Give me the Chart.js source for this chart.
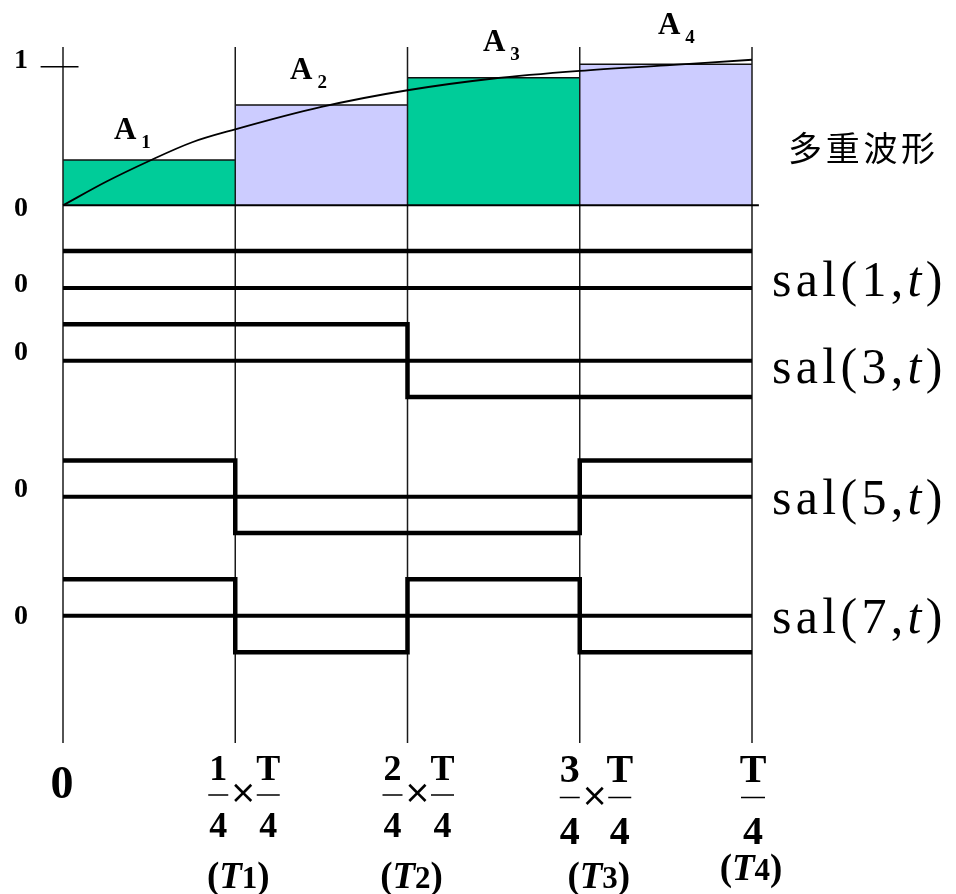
<!DOCTYPE html>
<html>
<head>
<meta charset="utf-8">
<script src="https://cdn.jsdelivr.net/npm/chart.js@4.4.1/dist/chart.umd.min.js"></script>
<style>
  html, body { margin: 0; padding: 0; background: #fff; }
  #wrap { width: 956px; height: 894px; }
</style>
</head>
<body>
<div id="wrap"><canvas id="walsh" width="956" height="894"></canvas></div>
<script>
// x runs in quarters of the period T
const QUARTERS = [0, 1, 2, 3, 4];

// step heights A1..A4 of the multilevel waveform
const AREA_LEVELS = [0.327, 0.724, 0.921, 1.017];
const AREA_NAMES = ['1', '2', '3', '4'];

// the smooth signal the steps approximate
const CURVE_T = [0, 0.25, 0.5, 0.75, 1, 1.5, 2, 2.5, 3, 3.5, 4];
const CURVE_V = [0, 0.17, 0.32, 0.455, 0.548, 0.71, 0.83, 0.915, 0.97, 1.01, 1.05];

// Walsh functions sal(k,t), one value per quarter
const SAL_ORDERS = [1, 3, 5, 7];
const SAL_1 = [1, 1, 1, 1];
const SAL_3 = [1, 1, -1, -1];
const SAL_5 = [1, -1, -1, 1];
const SAL_7 = [1, -1, 1, -1];

// tick labels under the quarter lines
const TICK_NUMERATORS = ['1', '2', '3'];
const TICK_NAMES = ['1', '2', '3', '4'];

// ---- layout ----
const PLOT = { left: 63, right: 752, top: 47, bottom: 743 };
const TOP_ROW = { zero: 205.3, unit: 138.6 };
const SAL_ROWS = [
    { id: 'ySal1', zero: 288,   unit: 37,   zeroLabel: 285, nameBase: 296 },
    { id: 'ySal3', zero: 360.7, unit: 36.4, zeroLabel: 353, nameBase: 383 },
    { id: 'ySal5', zero: 496.7, unit: 36.2, zeroLabel: 490, nameBase: 514 },
    { id: 'ySal7', zero: 615.7, unit: 36.5, zeroLabel: 617, nameBase: 633 }
];
const AREA_LABEL_POS = [
    { x: 0.296, lift: 21 }, { x: 1.318, lift: 26 }, { x: 2.438, lift: 27 }, { x: 3.454, lift: 30 }
];
const FRACTION_SHIFT = [8, 10, 15, 1];
const NAME_SHIFT = [3, 4, 19, -1];
const BASELINE_END = 4.04;
const UNIT_TICK = [-0.13, 0.09];

const GREEN = '#00cc99';
const LAVENDER = '#ccccff';
const SERIF = '"Liberation Serif", "Times New Roman", serif';

const rowScale = (zero, unit) => ({
    type: 'linear',
    display: false,
    min: -(PLOT.bottom - zero) / unit,
    max: (zero - PLOT.top) / unit
});

const stepPoints = values => {
    const pts = values.map((v, i) => ({ x: QUARTERS[i], y: v }));
    pts.push({ x: QUARTERS[values.length], y: values[values.length - 1] });
    return pts;
};

const datasets = [];

// coloured steps under the curve
AREA_LEVELS.forEach((v, i) => datasets.push({
    data: [{ x: QUARTERS[i], y: v }, { x: QUARTERS[i + 1], y: v }],
    yAxisID: 'yTop',
    fill: 'origin',
    backgroundColor: i % 2 ? LAVENDER : GREEN,
    borderColor: '#111',
    borderWidth: 1.5,
    order: 10
}));

// quarter lines through the whole figure
QUARTERS.forEach(q => datasets.push({
    data: [{ x: q, y: 0 }, { x: q, y: 1 }],
    yAxisID: 'yFrame',
    borderColor: '#1a1a1a',
    borderWidth: 1.5,
    order: 8
}));

// time axis of the top waveform and the unit tick
datasets.push({
    data: [{ x: QUARTERS[0], y: 0 }, { x: BASELINE_END, y: 0 }],
    yAxisID: 'yTop', borderColor: '#000', borderWidth: 2, order: 6
});
datasets.push({
    data: [{ x: UNIT_TICK[0], y: 1 }, { x: UNIT_TICK[1], y: 1 }],
    yAxisID: 'yTop', borderColor: '#000', borderWidth: 1.5, order: 6
});

datasets.push({
    data: CURVE_T.map((t, i) => ({ x: t, y: CURVE_V[i] })),
    yAxisID: 'yTop',
    borderColor: '#000',
    borderWidth: 1.8,
    cubicInterpolationMode: 'monotone',
    order: 4
});

[SAL_1, SAL_3, SAL_5, SAL_7].forEach((series, r) => {
    const id = SAL_ROWS[r].id;
    datasets.push({
        data: [{ x: QUARTERS[0], y: 0 }, { x: QUARTERS[4], y: 0 }],
        yAxisID: id, borderColor: '#000', borderWidth: 4, order: 2
    });
    // hold each quarter's value, then jump at the next boundary
    datasets.push({
        data: stepPoints(series),
        yAxisID: id, stepped: 'before', borderColor: '#000', borderWidth: 4.5,
        borderJoinStyle: 'miter', order: 1
    });
});

const scales = {
    x: { type: 'linear', display: false, min: QUARTERS[0], max: QUARTERS[4] },
    yTop: rowScale(TOP_ROW.zero, TOP_ROW.unit),
    yFrame: { type: 'linear', display: false, min: 0, max: 1 }
};
SAL_ROWS.forEach(r => { scales[r.id] = rowScale(r.zero, r.unit); });

// draws a run of glyphs one by one with extra spacing
function spaced(ctx, parts, x, y, gap) {
    ctx.textAlign = 'left';
    parts.forEach(p => {
        ctx.font = p.font;
        for (const ch of p.s) {
            ctx.fillText(ch, x, y);
            x += ctx.measureText(ch).width + gap;
        }
    });
}

function fraction(ctx, top, bottom, cx, f, halfBar) {
    ctx.textAlign = 'center';
    ctx.textBaseline = 'alphabetic';
    ctx.font = `bold ${f.size}px ${SERIF}`;
    ctx.fillText(top, cx, f.numY);
    ctx.fillText(bottom, cx, f.denY);
    ctx.fillRect(cx - halfBar, f.barY - 0.75, halfBar * 2, 1.5);
}

const labels = {
    id: 'labels',
    afterDraw(chart) {
        const ctx = chart.ctx;
        const x = chart.scales.x;
        const yTop = chart.scales.yTop;
        ctx.save();
        ctx.fillStyle = '#000';

        // left value labels
        ctx.textAlign = 'center';
        ctx.textBaseline = 'alphabetic';
        ctx.font = `bold 28px ${SERIF}`;
        ctx.fillText('1', 21, yTop.getPixelForValue(1) + 1);
        ctx.fillText('0', 21, yTop.getPixelForValue(0) + 11);
        ctx.textBaseline = 'middle';
        SAL_ROWS.forEach(r => ctx.fillText('0', 21, r.zeroLabel));

        // A1..A4
        ctx.textBaseline = 'alphabetic';
        AREA_LEVELS.forEach((v, i) => {
            const px = x.getPixelForValue(AREA_LABEL_POS[i].x);
            const py = yTop.getPixelForValue(v) - AREA_LABEL_POS[i].lift;
            ctx.textAlign = 'left';
            ctx.font = `bold 31px ${SERIF}`;
            ctx.fillText('A', px, py);
            const w = ctx.measureText('A').width;
            ctx.font = `bold 19px ${SERIF}`;
            ctx.fillText(AREA_NAMES[i], px + w + 5, py + 9);
        });

        ctx.textBaseline = 'middle';
        spaced(ctx, [{ s: '多重波形', font: '34px "Noto Sans CJK SC"' }], 788, 148, 3.7);

        // sal(k,t) names
        ctx.textBaseline = 'alphabetic';
        SAL_ORDERS.forEach((k, r) => {
            spaced(ctx, [
                { s: `sal(${k},`, font: `50px ${SERIF}` },
                { s: 't', font: `italic 50px ${SERIF}` },
                { s: ')', font: `50px ${SERIF}` }
            ], 772, SAL_ROWS[r].nameBase, 4.3);
        });

        // quarter ticks along the bottom
        ctx.textAlign = 'center';
        ctx.font = `bold 46px ${SERIF}`;
        ctx.fillText('0', x.getPixelForValue(0) - 1, 798);

        const small = { size: 36, numY: 780, barY: 795, denY: 837 };
        const large = { size: 40, numY: 782, barY: 797.5, denY: 844 };
        TICK_NUMERATORS.forEach((n, i) => {
            const q = QUARTERS[i + 1];
            const f = i < 2 ? small : large;
            const cx = x.getPixelForValue(q) + FRACTION_SHIFT[i];
            fraction(ctx, n, '4', cx - 25, f, 10);
            fraction(ctx, 'T', '4', cx + 25, f, 11.5);
            ctx.textAlign = 'center';
            ctx.textBaseline = 'middle';
            ctx.font = '32px "DejaVu Sans"';
            ctx.fillText('×', cx, f.barY);
        });
        fraction(ctx, 'T', '4', x.getPixelForValue(QUARTERS[4]) + FRACTION_SHIFT[3], large, 12);

        // (T1)..(T4)
        ctx.textBaseline = 'alphabetic';
        TICK_NAMES.forEach((n, i) => {
            const base = i < 3 ? 888 : 880;
            const parts = [
                { s: '(', font: `bold 37px ${SERIF}` },
                { s: 'T', font: `bold italic 37px ${SERIF}` },
                { s: n, font: `bold 31px ${SERIF}` },
                { s: ')', font: `bold 37px ${SERIF}` }
            ];
            let w = 0;
            parts.forEach(p => { ctx.font = p.font; w += ctx.measureText(p.s).width; });
            const cx = x.getPixelForValue(QUARTERS[i + 1]) + NAME_SHIFT[i];
            spaced(ctx, parts, cx - w / 2, base, 0);
        });

        ctx.restore();
    }
};

new Chart(document.getElementById('walsh'), {
    type: 'line',
    data: { datasets },
    options: {
        responsive: false,
        animation: false,
        devicePixelRatio: 1,
        layout: {
            padding: {
                left: PLOT.left,
                right: 956 - PLOT.right,
                top: PLOT.top,
                bottom: 894 - PLOT.bottom
            }
        },
        elements: {
            point: { radius: 0, hoverRadius: 0 },
            line: { fill: false, tension: 0, borderCapStyle: 'butt' }
        },
        datasets: { line: { clip: false } },
        scales,
        plugins: { legend: { display: false }, tooltip: { enabled: false } }
    },
    plugins: [labels]
});
</script>
</body>
</html>
